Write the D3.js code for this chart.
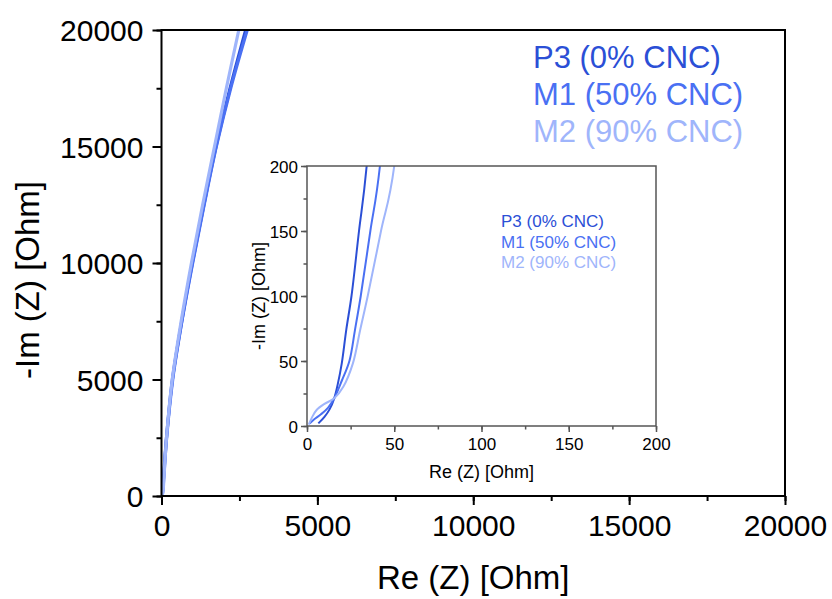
<!DOCTYPE html>
<html>
<head>
<meta charset="utf-8">
<script src="https://cdn.jsdelivr.net/npm/d3@7"></script>
<style>
  body { margin: 0; background: #fff; }
  text { font-family: "Liberation Sans", Arial, sans-serif; }
</style>
</head>
<body>
<div id="chart"></div>
<script>
// series names and colours
var seriesNames = ["P3 (0% CNC)", "M1 (50% CNC)", "M2 (90% CNC)"];
var seriesColors = ["#2b4fd6", "#4a70f3", "#9fb5fb"];

// Nyquist data, [Re Z, -Im Z] in Ohm
var p3 = [[6.5, 2], [10, 7], [13, 13], [15.6, 21.3], [17.6, 32], [19.9, 48], [22.5, 74], [25.5, 100],
  [29.8, 150], [34.2, 200], [160, 2500], [350, 5000], [650, 7500], [990, 10000], [1360, 12500],
  [1750, 15000], [2200, 17500], [2700, 20000]];
var m1 = [[1.5, 2], [4, 5], [8, 9], [12, 14], [15.6, 21.3], [20, 35], [24.3, 50], [27.5, 74], [30.8, 100],
  [36.3, 150], [41.8, 200], [165, 2500], [360, 5000], [655, 7500], [1000, 10000], [1370, 12500],
  [1760, 15000], [2220, 17500], [2750, 20000]];
var m2 = [[1, 1], [3, 7], [5.5, 12.3], [10, 17], [15.6, 21.3], [20.8, 30.2], [26.3, 48.2], [30.5, 74],
  [34.8, 100], [42.4, 150], [50, 200], [160, 2500], [345, 5000], [630, 7500], [960, 10000], [1320, 12500],
  [1700, 15000], [2080, 17500], [2480, 20000]];
var allSeries = [p3, m1, m2];

var mainTicks = [0, 5000, 10000, 15000, 20000];
var insetTicks = [0, 50, 100, 150, 200];

var width = 832, height = 599;
var svg = d3.select("#chart").append("svg")
  .attr("width", width)
  .attr("height", height);

var defs = svg.append("defs");

function drawPanel(opt) {
  var x = d3.scaleLinear().domain(opt.domain).range([opt.left, opt.right]);
  var y = d3.scaleLinear().domain(opt.domain).range([opt.bottom, opt.top]);
  var g = svg.append("g");

  defs.append("clipPath").attr("id", opt.id)
    .append("rect")
    .attr("x", opt.left).attr("y", opt.top)
    .attr("width", opt.right - opt.left).attr("height", opt.bottom - opt.top);

  if (opt.fill) {
    g.append("rect")
      .attr("x", opt.left).attr("y", opt.top)
      .attr("width", opt.right - opt.left).attr("height", opt.bottom - opt.top)
      .attr("fill", "#fff");
  }

  var line = d3.line()
    .x(function (d) { return x(d[0]); })
    .y(function (d) { return y(d[1]); })
    .curve(d3.curveCatmullRom.alpha(0.5));

  g.append("g").attr("clip-path", "url(#" + opt.id + ")")
    .selectAll("path")
    .data(allSeries)
    .enter()
    .append("path")
    .attr("d", line)
    .attr("fill", "none")
    .attr("stroke", function (d, i) { return seriesColors[i]; })
    .attr("stroke-width", opt.lineWidth)
    .attr("stroke-linejoin", "round");

  // minor ticks
  var minor = d3.range(opt.domain[0], opt.domain[1] + 1e-9, opt.minorStep);
  var xMinor = g.append("g").attr("transform", "translate(0," + opt.bottom + ")")
    .call(d3.axisBottom(x).tickValues(minor).tickSize(opt.minorLen).tickFormat(""));
  var yMinor = g.append("g").attr("transform", "translate(" + opt.left + ",0)")
    .call(d3.axisLeft(y).tickValues(minor).tickSize(opt.minorLen).tickFormat(""));

  var fmt = d3.format("d");
  var xAxis = g.append("g").attr("transform", "translate(0," + opt.bottom + ")")
    .call(d3.axisBottom(x).tickValues(opt.ticks).tickFormat(fmt).tickSize(opt.majorLen).tickPadding(opt.padX));
  var yAxis = g.append("g").attr("transform", "translate(" + opt.left + ",0)")
    .call(d3.axisLeft(y).tickValues(opt.ticks).tickFormat(fmt).tickSize(opt.majorLen).tickPadding(opt.padY));

  [xMinor, yMinor, xAxis, yAxis].forEach(function (a) {
    a.select(".domain").remove();
    a.selectAll("line").attr("stroke", opt.axisColor).attr("stroke-width", opt.axisWidth);
    a.selectAll("text")
      .attr("fill", "#000")
      .style("font-family", '"Liberation Sans", Arial, sans-serif')
      .style("font-size", opt.tickFont + "px");
  });
  yAxis.selectAll("text").attr("dy", "0.36em");

  g.append("rect")
    .attr("x", opt.left).attr("y", opt.top)
    .attr("width", opt.right - opt.left).attr("height", opt.bottom - opt.top)
    .attr("fill", "none")
    .attr("stroke", opt.axisColor)
    .attr("stroke-width", opt.axisWidth);

  g.append("text")
    .attr("x", (opt.left + opt.right) / 2)
    .attr("y", opt.xTitleY)
    .attr("text-anchor", "middle")
    .style("font-size", opt.titleFont + "px")
    .text("Re (Z) [Ohm]");

  g.append("text")
    .attr("transform", "translate(" + opt.yTitleX + "," + ((opt.top + opt.bottom) / 2 + opt.yTitleShift) + ") rotate(-90)")
    .attr("text-anchor", "middle")
    .attr("dy", "0.35em")
    .style("font-size", opt.yTitleFont + "px")
    .text("-Im (Z) [Ohm]");

  g.selectAll(".leg")
    .data(seriesNames)
    .enter()
    .append("text")
    .attr("class", "leg")
    .attr("x", opt.legX)
    .attr("y", function (d, i) { return opt.legY + i * opt.legStep; })
    .attr("fill", function (d, i) { return seriesColors[i]; })
    .style("font-size", opt.legFont + "px")
    .text(function (d) { return d; });
}

// main chart
drawPanel({
  id: "clipMain", domain: [0, 20000], ticks: mainTicks, minorStep: 2500,
  left: 161.5, right: 785, top: 30, bottom: 496,
  lineWidth: 3.2, majorLen: 9, minorLen: 5, padX: 10, padY: 9,
  axisColor: "#000", axisWidth: 2, tickFont: 30, titleFont: 33, yTitleFont: 33,
  xTitleY: 589, yTitleX: 27, yTitleShift: 17,
  legX: 533, legY: 68, legStep: 37, legFont: 31
});

// inset
drawPanel({
  id: "clipInset", domain: [0, 200], ticks: insetTicks, minorStep: 25, fill: true,
  left: 307, right: 656, top: 166, bottom: 426,
  lineWidth: 2, majorLen: 6, minorLen: 3.5, padX: 6, padY: 3,
  axisColor: "#555", axisWidth: 1.5, tickFont: 17, titleFont: 18, yTitleFont: 18,
  xTitleY: 478, yTitleX: 259, yTitleShift: 0,
  legX: 501, legY: 227, legStep: 20.5, legFont: 17
});
</script>
</body>
</html>
